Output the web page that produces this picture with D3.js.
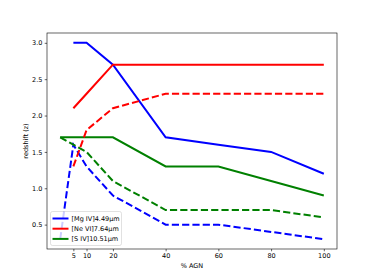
<!DOCTYPE html>
<html>
<head>
<meta charset="utf-8">
<script src="https://cdn.jsdelivr.net/npm/d3@7"></script>
<style>
  body { margin: 0; background: #fff; }
  text { font-family: "DejaVu Sans", sans-serif; }
</style>
</head>
<body>
<script>
// % AGN on the x axis
const agn = [0, 5, 10, 20, 40, 60, 80, 100];

// redshift values per line (null = no point)
const mgSolid  = [null, 3.0, 3.0, 2.7, 1.7, 1.6, 1.5, 1.2];
const mgDashed = [0.3, 1.6, 1.3, 0.9, 0.5, 0.5, 0.4, 0.3];
const neSolid  = [null, 2.1, 2.3, 2.7, 2.7, 2.7, 2.7, 2.7];
const neDashed = [null, 1.3, 1.8, 2.1, 2.3, 2.3, 2.3, 2.3];
const sSolid   = [1.7, 1.7, 1.7, 1.7, 1.3, 1.3, 1.1, 0.9];
const sDashed  = [1.7, 1.6, 1.5, 1.1, 0.7, 0.7, 0.7, 0.6];

const legendLabels = ['[Mg IV]4.49\u03bcm', '[Ne VI]7.64\u03bcm', '[S IV]10.51\u03bcm'];
const xTicks = [5, 10, 20, 40, 60, 80, 100];
const yTicks = [0.5, 1.0, 1.5, 2.0, 2.5, 3.0];

const WIDTH = 374;
const HEIGHT = 280;
const MARGIN = {top: 33, bottom: 31, left: 47, right: 37};

const svg = d3.select('body')
  .append('svg')
  .attr('width', WIDTH)
  .attr('height', HEIGHT)
  .style('background-color', '#fff');

const xScale = d3.scaleLinear()
  .domain([-5, 105])
  .range([MARGIN.left, WIDTH - MARGIN.right]);
const yScale = d3.scaleLinear()
  .domain([0.165, 3.135])
  .range([HEIGHT - MARGIN.bottom, MARGIN.top]);

const series = [
  {vals: mgSolid,  color: '#0000ff', dash: null},
  {vals: neSolid,  color: '#ff0000', dash: null},
  {vals: sSolid,   color: '#008000', dash: null},
  {vals: mgDashed, color: '#0000ff', dash: '7.2,3.1'},
  {vals: neDashed, color: '#ff0000', dash: '7.2,3.1'},
  {vals: sDashed,  color: '#008000', dash: '7.2,3.1'}
];

const line = d3.line()
  .defined(d => d.y !== null)
  .x(d => xScale(d.x))
  .y(d => yScale(d.y));

svg.selectAll('path.series')
  .data(series)
  .enter()
  .append('path')
  .attr('class', 'series')
  .attr('d', s => line(agn.map((x, i) => ({x: x, y: s.vals[i]})).filter(d => d.y !== null)))
  .attr('fill', 'none')
  .attr('stroke', s => s.color)
  .attr('stroke-width', 2)
  .attr('stroke-dasharray', s => s.dash);

// axes
const xAxis = d3.axisBottom(xScale).tickValues(xTicks).tickSize(2.3).tickPadding(2.3)
  .tickFormat(d3.format('d'));
const yAxis = d3.axisLeft(yScale).tickValues(yTicks).tickSize(2.3).tickPadding(2.3)
  .tickFormat(d3.format('.1f'));

const gx = svg.append('g')
  .attr('transform', 'translate(0,' + (HEIGHT - MARGIN.bottom) + ')')
  .call(xAxis);
const gy = svg.append('g')
  .attr('transform', 'translate(' + MARGIN.left + ',0)')
  .call(yAxis);

[gx, gy].forEach(g => {
  g.select('.domain').remove();
  g.selectAll('line').attr('stroke', '#000').attr('stroke-width', 0.6);
  g.selectAll('text').attr('font-size', '6.5px').attr('fill', '#000')
    .style('font-family', '"DejaVu Sans", sans-serif');
});

// frame
svg.append('rect')
  .attr('x', MARGIN.left)
  .attr('y', MARGIN.top)
  .attr('width', WIDTH - MARGIN.left - MARGIN.right)
  .attr('height', HEIGHT - MARGIN.top - MARGIN.bottom)
  .attr('fill', 'none')
  .attr('stroke', '#000')
  .attr('stroke-width', 0.6);

svg.append('text')
  .attr('x', (MARGIN.left + WIDTH - MARGIN.right) / 2)
  .attr('y', 267.5)
  .attr('text-anchor', 'middle')
  .attr('font-size', '6.5px')
  .text('% AGN');

svg.append('text')
  .attr('transform', 'translate(28,' + (MARGIN.top + HEIGHT - MARGIN.bottom) / 2 + ') rotate(-90)')
  .attr('text-anchor', 'middle')
  .attr('font-size', '6.5px')
  .text('redshift (z)');

// legend
const legend = svg.append('g').attr('transform', 'translate(50.5,211.5)');
legend.append('rect')
  .attr('width', 71)
  .attr('height', 34)
  .attr('rx', 2)
  .attr('fill', '#fff')
  .attr('fill-opacity', 0.8)
  .attr('stroke', '#ccc')
  .attr('stroke-width', 0.6);

const legendColors = ['#0000ff', '#ff0000', '#008000'];
legendLabels.forEach((lab, i) => {
  const y = 7 + i * 10.2;
  legend.append('line')
    .attr('x1', 2).attr('x2', 18)
    .attr('y1', y).attr('y2', y)
    .attr('stroke', legendColors[i])
    .attr('stroke-width', 2);
  legend.append('text')
    .attr('x', 21)
    .attr('y', y + 2.3)
    .attr('font-size', '6.5px')
    .text(lab);
});
</script>
</body>
</html>
